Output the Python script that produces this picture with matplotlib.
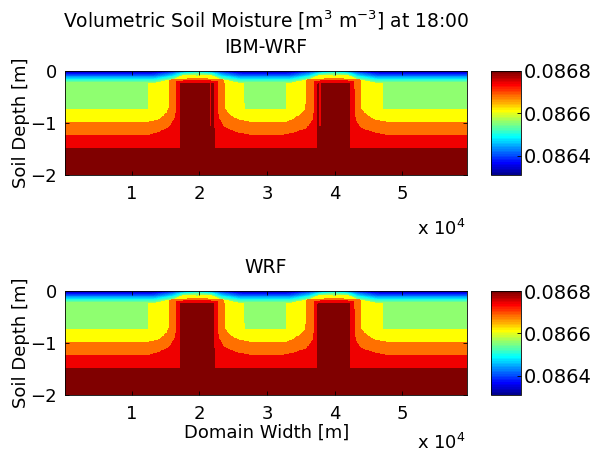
import numpy as np
import matplotlib
matplotlib.use("Agg")
import matplotlib.pyplot as plt
from matplotlib.colors import ListedColormap

# colour limits and ticks [m3 m-3]
clim = [0.08631, 0.08680]
cbar_ticks = [0.0864, 0.0866, 0.0868]

# axes ranges (x in units of 10^4 m, depth in m)
x_range = [0.01, 5.96]
x_ticks = [1, 2, 3, 4, 5]
y_ticks = [-2, -1, 0]

# moisture of the bands below the surface layer: green, yellow, orange, red, dark red
band_values = [0.086559, 0.086612, 0.086681, 0.086743, 0.086800]

# moisture at the ground surface
surf_x = [0.0, 1.30, 1.60, 1.80, 1.965, 2.13, 2.33, 2.63, 3.30, 3.62, 3.82, 3.987, 4.15, 4.35, 4.66, 6.0]
surf_val = [0.086325, 0.086325, 0.086380, 0.086450, 0.086475, 0.086450, 0.086380, 0.086325,
            0.086325, 0.086380, 0.086450, 0.086475, 0.086450, 0.086380, 0.086325, 0.086325]

# depth where the surface ramp ends
ramp_x = [0.0, 1.35, 1.60, 1.75, 1.965, 2.18, 2.33, 2.58, 3.36, 3.61, 3.77, 3.987, 4.20, 4.35, 4.60, 6.0]
ramp_d = [-0.22, -0.22, -0.16, -0.08, -0.06, -0.08, -0.16, -0.22, -0.22, -0.16, -0.08, -0.06, -0.08, -0.16, -0.22, -0.22]

# top of the yellow band
yellow_x = [0.0, 1.228, 1.236, 1.70, 1.965, 2.23, 2.659, 2.667,
            3.272, 3.280, 3.74, 3.987, 4.23, 4.709, 4.717, 6.0]
yellow_d = [-0.722, -0.722, 0.0, 0.0, -0.09, 0.0, 0.0, -0.722,
            -0.722, 0.0, 0.0, -0.09, 0.0, 0.0, -0.722, -0.722]

# top of the orange band
orange_x = [0.0, 1.232, 1.356, 1.455, 1.514, 1.545, 1.553, 1.661, 1.965, 2.268, 2.367, 2.375, 2.416, 2.49, 2.614, 2.76,
            3.28, 3.377, 3.476, 3.56, 3.567, 3.575, 3.698, 3.987, 4.29, 4.389, 4.397, 4.413, 4.487, 4.586, 4.709, 4.80, 6.0]
orange_d = [-0.977, -0.977, -0.945, -0.881, -0.786, -0.70, -0.17, -0.15, -0.134, -0.15, -0.17, -0.70, -0.786, -0.881, -0.945, -0.977,
            -0.977, -0.926, -0.849, -0.75, -0.70, -0.17, -0.15, -0.134, -0.15, -0.17, -0.70, -0.76, -0.849, -0.926, -0.965, -0.977, -0.977]

# top of the red band
red_x = [0.0, 1.232, 1.405, 1.553, 1.627, 1.655, 1.661, 1.965, 2.268, 2.275, 2.293, 2.367, 2.54, 2.69, 2.80,
         3.20, 3.30, 3.427, 3.575, 3.673, 3.692, 3.698, 3.987, 4.29, 4.296, 4.315, 4.389, 4.56, 4.709, 4.80, 6.0]
red_d = [-1.233, -1.233, -1.169, -1.073, -0.913, -0.75, -0.19, -0.17, -0.19, -0.75, -0.913, -1.073, -1.169, -1.214, -1.233,
         -1.233, -1.214, -1.169, -1.105, -0.945, -0.75, -0.19, -0.17, -0.19, -0.75, -0.945, -1.092, -1.169, -1.214, -1.233, -1.233]

# top of the dark red band
dark_x = [0.0, 1.705, 1.711, 2.219, 2.225, 3.741, 3.747, 4.226, 4.232, 6.0]
dark_d = [-1.489, -1.489, -0.223, -0.223, -1.489, -1.489, -0.223, -0.223, -1.489, -1.489]

# thin wetter stripes inside the columns of the IBM-WRF run
ibm_x = [2.16, 3.78]
ibm_top = -0.223
ibm_bottom = -1.07

xc = np.linspace(x_range[0], x_range[1], 700)
zc = np.linspace(-2, 0, 240)


def matlab_jet(n=64):
    m = n // 4
    u = np.concatenate([np.arange(1, m + 1) / m, np.ones(m - 1), np.arange(m, 0, -1) / m])
    g = m // 2 + np.arange(1, len(u) + 1)
    r = g + m
    b = g - m
    J = np.zeros((n, 3))
    gk, rk, bk = g[g <= n], r[r <= n], b[b >= 1]
    J[rk - 1, 0] = u[:len(rk)]
    J[gk - 1, 1] = u[:len(gk)]
    J[bk - 1, 2] = u[len(u) - len(bk):]
    return ListedColormap(J)


def make_field(ibm):
    g = np.interp(xc, ramp_x, ramp_d)
    s = np.interp(xc, surf_x, surf_val)
    tops = [np.minimum(np.interp(xc, yellow_x, yellow_d), g)]
    for px, pd in [(orange_x, orange_d), (red_x, red_d), (dark_x, dark_d)]:
        tops.append(np.minimum(np.interp(xc, px, pd), tops[-1]))
    Z, X = np.meshgrid(zc, xc, indexing="ij")
    field = np.where(Z > g, s + (band_values[0] - s) * Z / g, band_values[0])
    for top, v in zip(tops, band_values[1:]):
        field = np.where(Z <= top, v, field)
    if ibm:
        for xi in ibm_x:
            m = (np.abs(X - xi) < 0.012) & (Z <= ibm_top) & (Z > ibm_bottom)
            field[m] = band_values[3]
    return field


plt.rcParams["font.family"] = ["DejaVu Sans"]
fig = plt.figure(figsize=(6, 4.55), dpi=100)
W, H = 600.0, 455.0
cmap = matlab_jet(64)


def fx(px):
    return px / W


def fy(py):
    return 1 - py / H


# name, axes top [px], IBM stripes, baseline of the x 10^4 note [px]
panels = [("IBM-WRF", 71, True, 235), ("WRF", 291, False, 449)]
for name, top, ibm, note_y in panels:
    ax = fig.add_axes([fx(65), fy(top + 104), fx(402), 104 / H])
    mesh = ax.pcolormesh(xc, zc, make_field(ibm), cmap=cmap, vmin=clim[0], vmax=clim[1],
                         shading="nearest", rasterized=True)
    ax.set_xlim(x_range)
    ax.set_ylim(-2, 0)
    ax.set_xticks(x_ticks)
    ax.set_yticks(y_ticks)
    ax.tick_params(direction="in", length=3, width=0.6, top=True, right=True, labelsize=13)
    ax.tick_params(axis="x", pad=7)
    ax.tick_params(axis="y", pad=6)
    for sp in ax.spines.values():
        sp.set_linewidth(0.6)
    ax.set_ylabel("Soil Depth [m]", fontsize=13, labelpad=0)
    fig.text(fx(417), fy(note_y), r"x 10$^{4}$", fontsize=13, va="baseline")

    cax = fig.add_axes([fx(491), fy(top + 104), 30 / W, 104 / H])
    cb = fig.colorbar(mesh, cax=cax, ticks=cbar_ticks)
    cb.ax.set_yticklabels(["%.4f" % t for t in cbar_ticks])
    cb.ax.tick_params(direction="in", length=3, width=0.6, labelsize=14, pad=2)
    cb.outline.set_linewidth(0.6)

    fig.text(fx(266), fy(top - 18), name, fontsize=13.5, ha="center", va="baseline")

fig.text(fx(266), fy(28), r"Volumetric Soil Moisture [m$^{3}$ m$^{-3}$] at 18:00",
         fontsize=13.5, ha="center", va="baseline")
fig.text(fx(267), fy(438), "Domain Width [m]", fontsize=13, ha="center", va="baseline")

fig.savefig("out.png", dpi=100)
